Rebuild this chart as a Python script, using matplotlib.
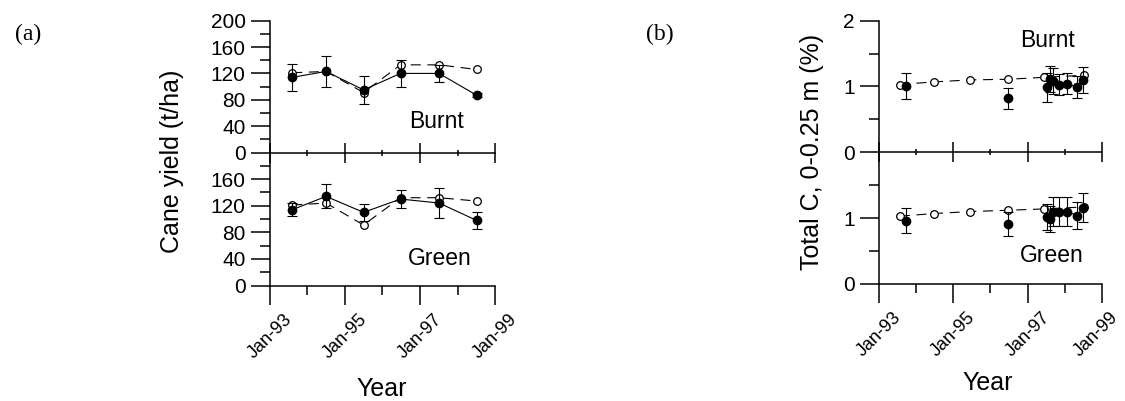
import datetime as dt
import matplotlib
matplotlib.use("Agg")
import matplotlib.pyplot as plt
import matplotlib.dates as mdates
import matplotlib.transforms as mtransforms
from matplotlib.ticker import FixedLocator

plt.rcParams["font.family"] = ["Liberation Sans", "DejaVu Sans"]

# ---- data: (a) cane yield (t/ha) ----
yield_dates = ["1993-08-05", "1994-07-01", "1995-07-01", "1996-06-25", "1997-07-05", "1998-07-05"]
burnt_yield_obs = [114, 123, 95, 120, 120, 87]
burnt_yield_err = [21, 23, 21, 21, 13, 3]
burnt_yield_sim = [121, 123, 91, 133, 133, 126]
green_yield_obs = [114, 134, 110, 130, 124, 98]
green_yield_err = [10, 18, 13, 14, 23, 13]
green_yield_sim = [121, 124, 91, 132, 132, 127]

# ---- data: (b) total C, 0-0.25 m (%) ----
c_sim_dates = ["1993-07-25", "1994-06-25", "1995-06-15", "1996-06-25", "1997-06-15", "1998-07-05"]
burnt_c_sim = [1.03, 1.07, 1.10, 1.11, 1.14, 1.17]
green_c_sim = [1.03, 1.07, 1.10, 1.12, 1.14, 1.17]

c_early_dates = ["1993-09-27", "1996-06-25"]
burnt_c_early = [1.01, 0.82]
burnt_c_early_err = [0.20, 0.16]
green_c_early = [0.96, 0.91]
green_c_early_err = [0.19, 0.18]

c_late_dates = ["1997-07-08", "1997-08-07", "1997-09-08", "1997-11-06", "1998-01-22", "1998-05-04", "1998-06-28"]
burnt_c_late = [0.99, 1.11, 1.08, 1.03, 1.04, 0.99, 1.10]
burnt_c_late_err = [0.22, 0.20, 0.20, 0.16, 0.16, 0.17, 0.20]
green_c_late = [1.02, 0.99, 1.10, 1.10, 1.10, 1.04, 1.16]
green_c_late_err = [0.20, 0.20, 0.22, 0.22, 0.22, 0.20, 0.22]

major_years = [1993, 1995, 1997, 1999]
minor_years = [1994, 1996, 1998]


def to_num(ds):
    return mdates.date2num([dt.datetime.strptime(d, "%Y-%m-%d") for d in ds])


def style_axis(ax, top, ymax, ymajor, yminor):
    ax.patch.set_visible(False)
    for s in ["top", "right"]:
        ax.spines[s].set_visible(False)
    for s in ["left", "bottom"]:
        ax.spines[s].set_linewidth(1.1)
    ax.set_xlim(mdates.date2num(dt.datetime(1993, 1, 1)), mdates.date2num(dt.datetime(1999, 1, 1)))
    ax.set_ylim(0, ymax)
    ax.xaxis.set_major_locator(FixedLocator(mdates.date2num([dt.datetime(y, 1, 1) for y in major_years])))
    ax.xaxis.set_minor_locator(FixedLocator(mdates.date2num([dt.datetime(y, 1, 1) for y in minor_years])))
    ax.xaxis.set_major_formatter(mdates.DateFormatter("%b-%y"))
    ax.yaxis.set_major_locator(FixedLocator(ymajor))
    ax.yaxis.set_minor_locator(FixedLocator(yminor))
    ax.tick_params(axis="y", which="major", direction="out", length=13.5, width=1.1, labelsize=15, pad=4)
    ax.tick_params(axis="y", which="minor", direction="out", length=7, width=1.1)
    if top:
        ax.tick_params(axis="x", which="major", direction="inout", length=14, width=1.1, labelbottom=False)
        ax.tick_params(axis="x", which="minor", direction="inout", length=5, width=1.1)
    else:
        ax.tick_params(axis="x", which="major", direction="out", length=14, width=1.1, labelsize=13, pad=4)
        ax.tick_params(axis="x", which="minor", direction="out", length=6.5, width=1.1)
        for lab in ax.get_xticklabels():
            lab.set_rotation(45)
            lab.set_ha("center")


def draw_sim(ax, x, y):
    ax.plot(x, y, marker="o", ms=5.5, mfc="white", mec="black", mew=0.9, color="black",
            lw=0.8, linestyle=(0, (9, 6)), zorder=2)


def draw_obs(ax, x, y, err, line=True):
    ax.errorbar(x, y, yerr=err, fmt="o-" if line else "o", color="black", ms=6, lw=0.8,
                elinewidth=0.8, capsize=3.5, capthick=0.8, zorder=3)


fig = plt.figure(figsize=(11.25, 4.01), dpi=100)

# (a)
a_bot = fig.add_axes([0.24, 0.288, 0.2, 0.3317])
a_top = fig.add_axes([0.24, 0.6197, 0.2, 0.3287])
style_axis(a_top, True, 200, [0, 40, 80, 120, 160, 200], [20, 60, 100, 140, 180])
style_axis(a_bot, False, 200, [0, 40, 80, 120, 160], [20, 60, 100, 140, 180])
xa = to_num(yield_dates)
draw_sim(a_top, xa, burnt_yield_sim)
draw_obs(a_top, xa, burnt_yield_obs, burnt_yield_err)
draw_sim(a_bot, xa, green_yield_sim)
draw_obs(a_bot, xa, green_yield_obs, green_yield_err)

# (b)
b_bot = fig.add_axes([0.7813, 0.2918, 0.1982, 0.3284])
b_top = fig.add_axes([0.7813, 0.6202, 0.1982, 0.3282])
style_axis(b_top, True, 2, [0, 1, 2], [0.5, 1.5])
style_axis(b_bot, False, 2, [0, 1], [0.5, 1.5])
xs = to_num(c_sim_dates)
xe = to_num(c_early_dates)
xl = to_num(c_late_dates)
draw_sim(b_top, xs, burnt_c_sim)
draw_obs(b_top, xe, burnt_c_early, burnt_c_early_err, line=False)
draw_obs(b_top, xl, burnt_c_late, burnt_c_late_err)
draw_sim(b_bot, xs, green_c_sim)
draw_obs(b_bot, xe, green_c_early, green_c_early_err, line=False)
draw_obs(b_bot, xl, green_c_late, green_c_late_err)

# keep the last (b) date label inside the figure edge
last = b_bot.get_xticklabels()[-1]
last.set_transform(last.get_transform() + mtransforms.ScaledTranslation(-6 / 100, 0, fig.dpi_scale_trans))

# labels
fig.text(0.153, 0.598, "Cane yield (t/ha)", rotation=90, ha="center", va="center", fontsize=18)
fig.text(0.7215, 0.622, "Total C, 0-0.25 m (%)", rotation=90, ha="center", va="center", fontsize=18)
fig.text(0.3396, 0.03, "Year", ha="center", va="center", fontsize=18)
fig.text(0.878, 0.046, "Year", ha="center", va="center", fontsize=18)

fig.text(0.388, 0.698, "Burnt", ha="center", va="center", fontsize=16.5)
fig.text(0.391, 0.355, "Green", ha="center", va="center", fontsize=16.5)
fig.text(0.9313, 0.900, "Burnt", ha="center", va="center", fontsize=16.5)
fig.text(0.9347, 0.363, "Green", ha="center", va="center", fontsize=16.5)

fig.text(0.025, 0.913, "(a)", ha="center", va="center", fontsize=17, family="Liberation Serif")
fig.text(0.5867, 0.913, "(b)", ha="center", va="center", fontsize=17, family="Liberation Serif")

fig.savefig("out.png", dpi=100)
